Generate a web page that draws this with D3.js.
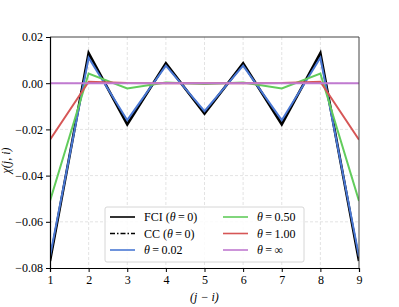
<!DOCTYPE html>
<html>
<head>
<meta charset="utf-8">
<script src="https://cdn.jsdelivr.net/npm/d3@7"></script>
<style>
  body { margin: 0; background: #fff; }
  svg text { font-family: "Liberation Serif" !important; fill: #000; }
</style>
</head>
<body>
<div id="chart"></div>
<script>
// data
var sites = [1, 2, 3, 4, 5, 6, 7, 8, 9];
var fci    = [-0.077, 0.013, -0.0178, 0.0086, -0.0132, 0.0086, -0.0178, 0.013, -0.077];
var cc     = [-0.0765, 0.0125, -0.0174, 0.0083, -0.0129, 0.0083, -0.0174, 0.0125, -0.0765];
var th002  = [-0.075, 0.011, -0.016, 0.0076, -0.0121, 0.0076, -0.016, 0.011, -0.075];
var th050  = [-0.051, 0.0042, -0.0023, 0.0003, -0.0004, 0.0003, -0.0023, 0.0042, -0.051];
var th100  = [-0.0245, 0.0006, 0.0001, 0.0, 0.0, 0.0, 0.0001, 0.0006, -0.0245];
var thInf  = [0, 0, 0, 0, 0, 0, 0, 0, 0];
var yTicks = [0.02, 0.00, -0.02, -0.04, -0.06, -0.08];

var series = [
  {pre: "FCI (", val: "0", post: ")", vals: fci,   color: "#000000", dash: null},
  {pre: "CC (",  val: "0", post: ")", vals: cc,    color: "#000000", dash: "5,2,1.5,2"},
  {pre: "", val: "0.02", post: "",    vals: th002, color: "#4a78d4", dash: null},
  {pre: "", val: "0.50", post: "",    vals: th050, color: "#62cc5c", dash: null},
  {pre: "", val: "1.00", post: "",    vals: th100, color: "#d65656", dash: null},
  {pre: "", val: "∞", post: "",       vals: thInf, color: "#c07ad0", dash: null}
];

var margin = {top: 37, right: 40, bottom: 39, left: 50},
    width = 399 - margin.left - margin.right,
    height = 307 - margin.top - margin.bottom;

var svg = d3.select("#chart")
  .append("svg")
    .attr("width", 399)
    .attr("height", 307)
  .append("g")
    .attr("transform", "translate(" + margin.left + "," + margin.top + ")");

var x = d3.scaleLinear().domain([1, 9]).range([0, width]);
var y = d3.scaleLinear().domain([-0.08, 0.02]).range([height, 0]);

// grid
svg.append("g").selectAll("line.gx")
  .data(sites.slice(1, -1))
  .enter().append("line")
    .attr("x1", function(d) { return x(d); })
    .attr("x2", function(d) { return x(d); })
    .attr("y1", 0).attr("y2", height)
    .attr("stroke", "#dcdcdc").attr("stroke-dasharray", "3,2").attr("stroke-width", 0.8);
svg.append("g").selectAll("line.gy")
  .data(yTicks.slice(1, -1))
  .enter().append("line")
    .attr("y1", function(d) { return y(d); })
    .attr("y2", function(d) { return y(d); })
    .attr("x1", 0).attr("x2", width)
    .attr("stroke", "#dcdcdc").attr("stroke-dasharray", "3,2").attr("stroke-width", 0.8);

// lines
var line = d3.line()
  .x(function(d, i) { return x(sites[i]); })
  .y(function(d) { return y(d); });

svg.append("defs").append("clipPath").attr("id", "clip")
  .append("rect").attr("width", width).attr("height", height);

var plot = svg.append("g").attr("clip-path", "url(#clip)");
// FCI drawn a bit heavier so the black shows around blue
plot.append("path").datum(fci).attr("d", line)
  .attr("fill", "none").attr("stroke", "#000").attr("stroke-width", 2.6);
series.slice(1).forEach(function(s) {
  plot.append("path").datum(s.vals).attr("d", line)
    .attr("fill", "none")
    .attr("stroke", s.color)
    .attr("stroke-width", s.dash ? 1.6 : 2)
    .attr("stroke-dasharray", s.dash);
});

// spines
svg.append("line").attr("x1", 0).attr("x2", width).attr("y1", 0).attr("y2", 0)
  .attr("stroke", "#444").attr("stroke-width", 1);
svg.append("line").attr("x1", width).attr("x2", width).attr("y1", 0).attr("y2", height)
  .attr("stroke", "#444").attr("stroke-width", 1);

// axes
var xAxis = svg.append("g")
  .attr("transform", "translate(0," + height + ")")
  .call(d3.axisBottom(x).tickValues(sites).tickFormat(d3.format("d")).tickSize(4).tickPadding(3));
var yAxis = svg.append("g")
  .call(d3.axisLeft(y).tickValues(yTicks).tickFormat(d3.format(".2f")).tickSize(4).tickPadding(3));
[xAxis, yAxis].forEach(function(a) {
  a.attr("font-family", null);
  a.select(".domain").attr("stroke", "#000").attr("stroke-width", 1.2);
  a.selectAll("text").attr("font-size", 12);
});

// labels
svg.append("text")
  .attr("text-anchor", "middle")
  .attr("x", width / 2)
  .attr("y", height + 33)
  .attr("font-size", 12)
  .attr("font-style", "italic")
  .text("(j − i)");
svg.append("text")
  .attr("text-anchor", "middle")
  .attr("transform", "rotate(-90)")
  .attr("x", -height / 2 - 8)
  .attr("y", -40)
  .attr("font-size", 12)
  .attr("font-style", "italic")
  .text("χ(j, i)");

// legend
var lg = svg.append("g").attr("transform", "translate(" + (105 - margin.left) + "," + (207 - margin.top) + ")");
lg.append("rect").attr("width", 199).attr("height", 55).attr("rx", 2)
  .attr("fill", "#fff").attr("fill-opacity", 0.85).attr("stroke", "#ccc").attr("stroke-width", 0.8);
series.forEach(function(s, i) {
  var col = Math.floor(i / 3), row = i % 3;
  var gx = 5 + col * 113, gy = 10 + row * 16.5;
  lg.append("line").attr("x1", gx).attr("x2", gx + 25).attr("y1", gy).attr("y2", gy)
    .attr("stroke", s.color).attr("stroke-width", s.dash ? 1.4 : 1.6)
    .attr("stroke-dasharray", s.dash);
  var t = lg.append("text").attr("x", gx + 34).attr("y", gy + 4).attr("font-size", 12);
  if (s.pre) t.append("tspan").text(s.pre);
  t.append("tspan").attr("font-style", "italic").text("θ");
  t.append("tspan").text("\u2009=\u2009" + s.val);
  if (s.post) t.append("tspan").text(s.post);
});
</script>
</body>
</html>
